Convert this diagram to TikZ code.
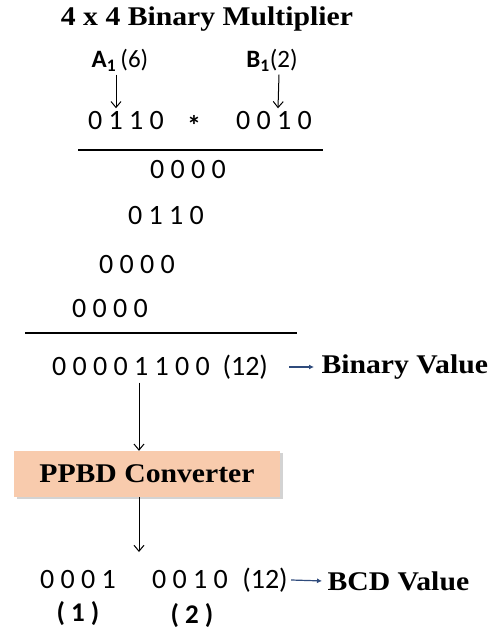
\documentclass[tikz,border=0pt]{standalone}
\usepackage{fontspec}
\setmainfont{Liberation Serif}
\newfontfamily\labfont[FakeStretch=1.1]{Liberation Serif}
\newfontfamily\digfont{Carlito}
\usetikzlibrary{arrows.meta,shadows}
\definecolor{peach}{HTML}{F8CBAD}
\definecolor{arrowblue}{HTML}{2F4B7C}
\tikzset{
  digits/.style={font=\digfont\fontsize{28}{32}\selectfont},
  bdigits/.style={font=\digfont\bfseries\fontsize{27}{32}\selectfont},
  lbl/.style={font=\labfont\bfseries\fontsize{27}{32}\selectfont},
  opnd/.style={font=\digfont\fontsize{25}{30}\selectfont},
  darr/.style={-{Straight Barb[length=6pt,width=10pt]},line width=1pt},
  barr/.style={-{Latex[length=5pt,width=5pt]},arrowblue,line width=1.2pt},
  convbox/.style={fill=peach,minimum width=266pt,minimum height=46pt,
    font=\labfont\bfseries\fontsize{27}{32}\selectfont,
    drop shadow={shadow xshift=3pt,shadow yshift=-2pt,opacity=0.35}}
}
\begin{document}
\begin{tikzpicture}[x=1pt,y=-1pt]
  \useasboundingbox (0,0) rectangle (500,635);
  \node[lbl] (title) at (207,19) {4 x 4 Binary Multiplier};
  % operands
  \node[opnd] (a1) at (120,60) {\textbf{A\textsubscript{1}}\,(6)};
  \node[opnd] (b1) at (272,60) {\textbf{B\textsubscript{1}}(2)};
  \node[digits] (aval) at (126,121) {0 1 1 0};
  \node[digits,font=\digfont\bfseries\fontsize{28}{32}\selectfont] (star) at (194,125) {*};
  \node[digits] (bval) at (274,121) {0 0 1 0};
  \draw[darr] ([xshift=-4pt]a1.south) -- ([xshift=-10pt]aval.north);
  \draw[darr] ([xshift=7pt]b1.south) -- ([xshift=4pt]bval.north);
  \draw[line width=1.3pt] (78,150) -- (323,150);
  % partial products
  \node[digits] (pp1) at (188,170) {0 0 0 0};
  \node[digits] (pp2) at (166,216) {0 1 1 0};
  \node[digits] (pp3) at (137,265) {0 0 0 0};
  \node[digits] (pp4) at (110,309) {0 0 0 0};
  \draw[line width=1.3pt] (25,333) -- (297,333);
  % result
  \node[digits] (prod) at (160,367) {0 0 0 0 1 1 0 0 \ (12)};
  \node[lbl,anchor=west] (binval) at (318,367) {Binary Value};
  \draw[barr,shorten <=18pt,shorten >=4pt] (prod.east) -- (binval.west);
  \node[convbox] (conv) at (147,474) {PPBD Converter};
  \draw[darr] (prod.south -| 139,0) -- (conv.north -| 139,0);
  \coordinate (bcdtop) at (139,552);
  \draw[darr] (conv.south -| 139,0) -- (bcdtop);
  % BCD output
  \node[digits] (bcd1) at (78,580) {0 0 0 1};
  \node[digits] (bcd2) at (190,580) {0 0 1 0};
  \node[digits] (dec) at (265,580) {(12)};
  \node[lbl,anchor=west] (bcdval) at (324,581) {BCD Value};
  \draw[barr,shorten <=0pt,shorten >=2pt] (dec.east) -- (bcdval.west);
  \node[bdigits] (d1) at (78,614) {( 1 )};
  \node[bdigits] (d2) at (192,616) {( 2 )};
\end{tikzpicture}
\end{document}
